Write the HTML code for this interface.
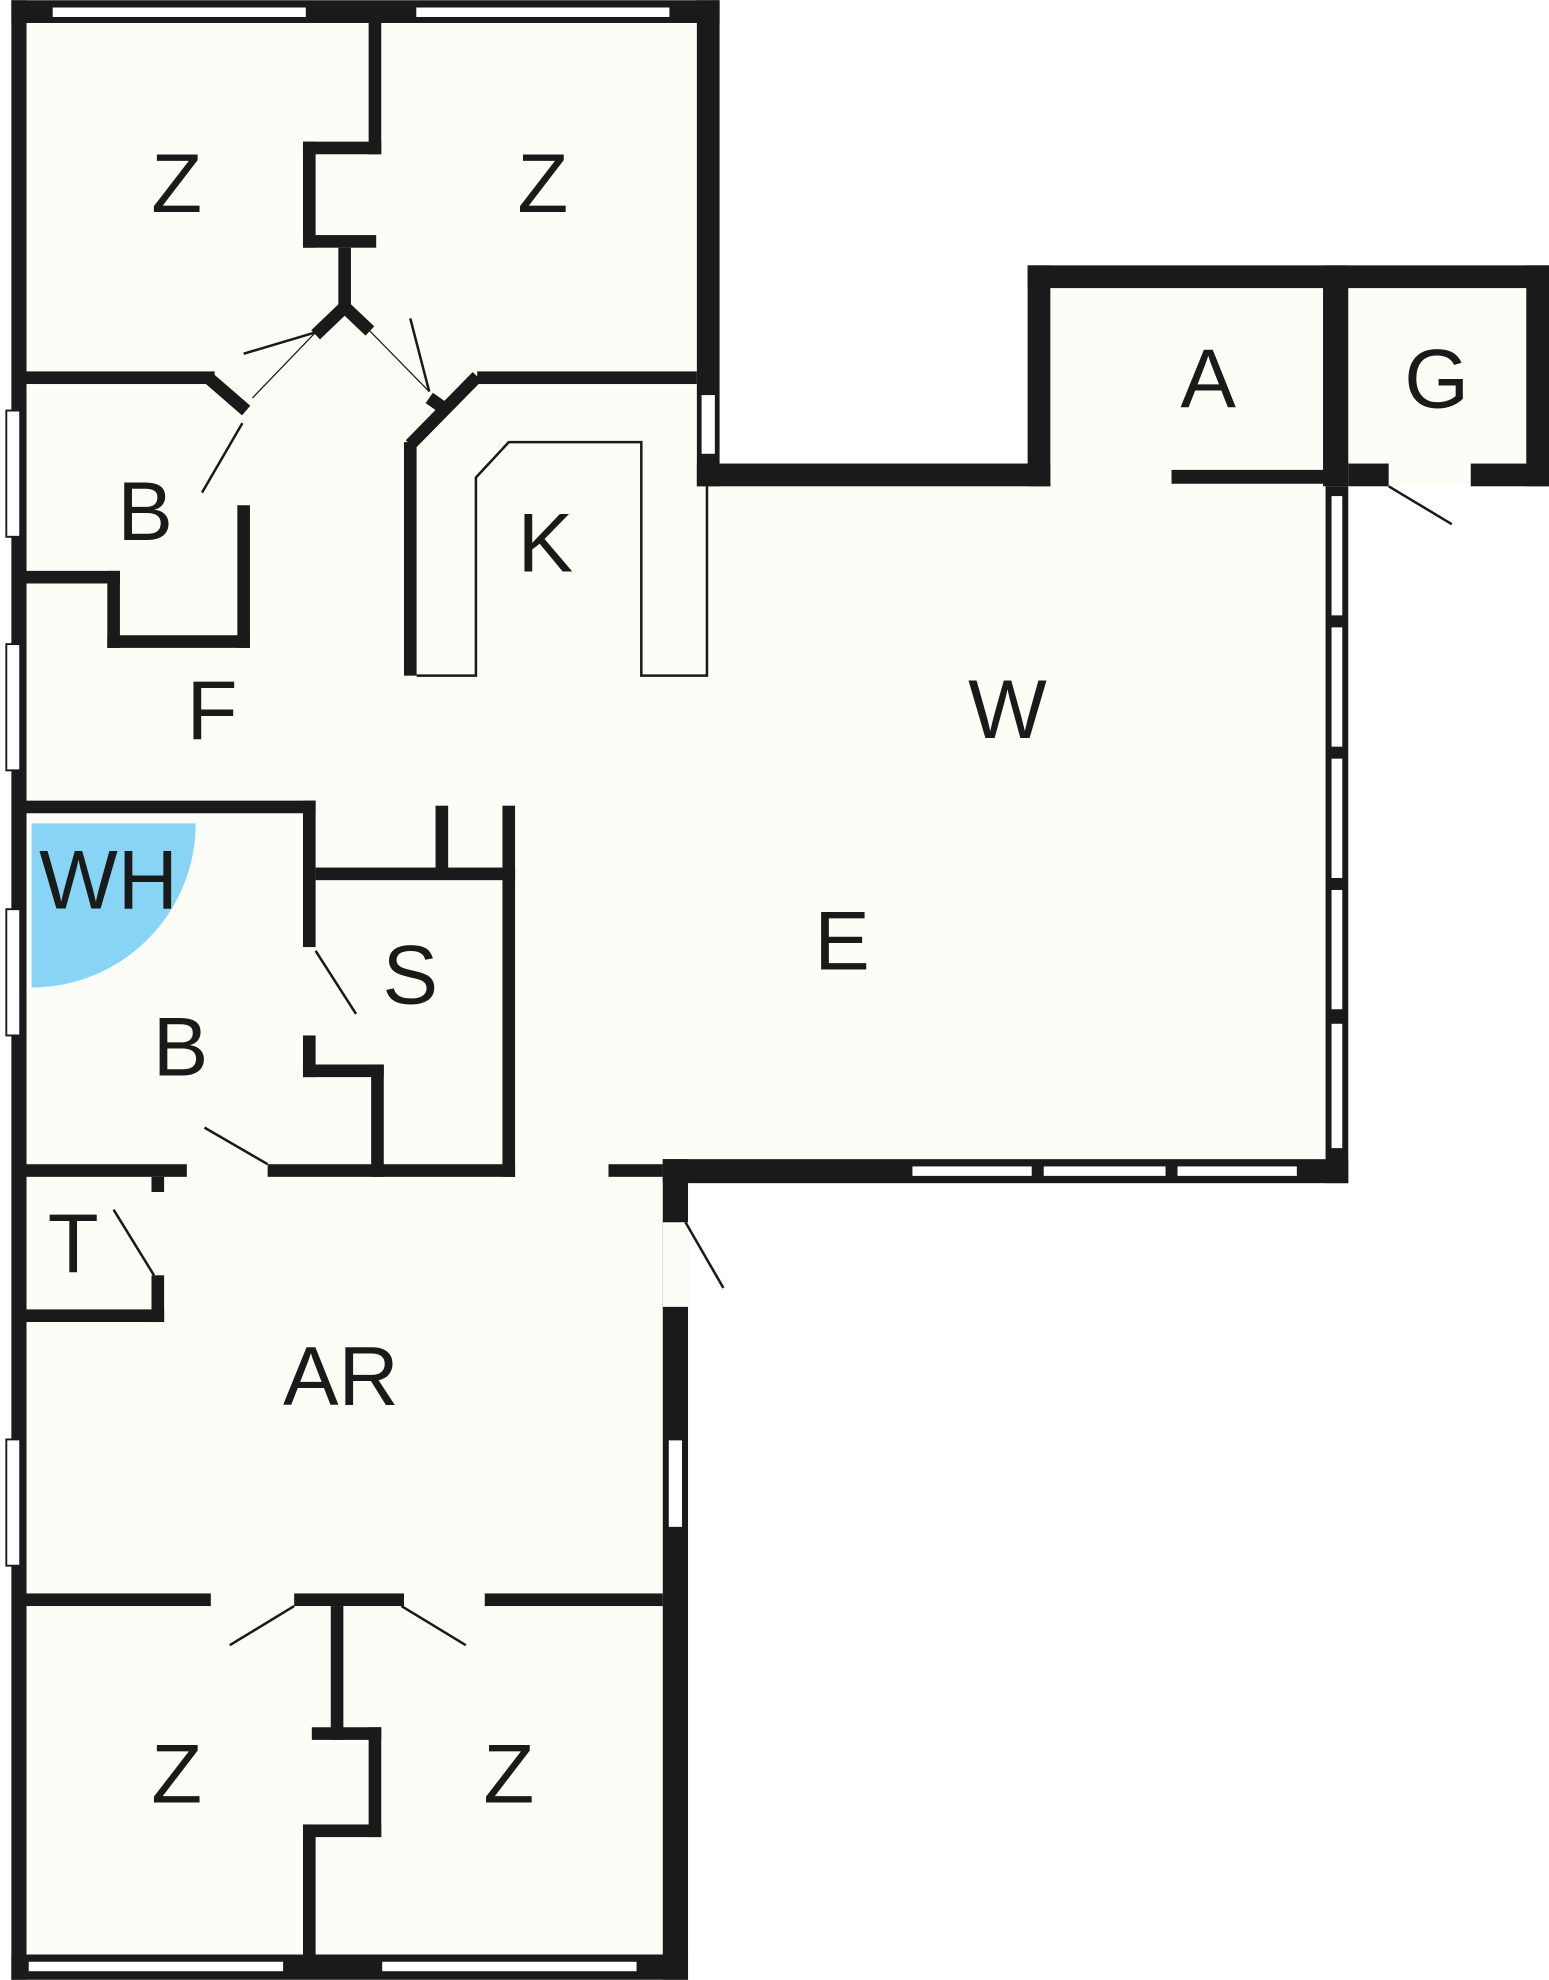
<!DOCTYPE html>
<html><head><meta charset="utf-8"><style>
html,body{margin:0;padding:0;background:#fff;}
svg{display:block;}
text{font-family:"Liberation Sans",sans-serif;font-size:66px;fill:#1a1a1a;text-anchor:middle;dominant-baseline:central;}
</style></head><body>
<svg width="1549" height="1980" viewBox="0 0 1227 1568" xmlns="http://www.w3.org/2000/svg">
<g fill="#fdfdf8">
<rect x="9" y="0" width="561" height="937"/>
<rect x="552" y="367" width="516" height="570"/>
<rect x="814" y="210" width="413" height="175"/>
<rect x="9" y="900" width="536" height="668"/>
</g>
<path d="M25,652 L155,652 A130,130 0 0 1 25,782 Z" fill="#87d4f5"/>
<g fill="#1a1a1a">
<rect x="9" y="0" width="12" height="1568"/>
<rect x="9" y="0" width="561" height="18"/>
<rect x="552" y="0" width="18" height="385"/>
<rect x="552" y="367" width="280" height="18"/>
<rect x="814" y="210" width="18" height="175"/>
<rect x="814" y="210" width="413" height="18"/>
<rect x="1209" y="210" width="18" height="175"/>
<rect x="1048" y="210" width="20" height="175"/>
<rect x="1068" y="367" width="32" height="18"/>
<rect x="1165" y="367" width="62" height="18"/>
<rect x="928" y="372" width="120" height="11"/>
<rect x="1050" y="385" width="18" height="552"/>
<rect x="525" y="918" width="543" height="19"/>
<rect x="525" y="918" width="20" height="650"/>
<rect x="9" y="1548" width="536" height="20"/>
<rect x="292" y="18" width="10" height="104"/>
<rect x="240" y="112" width="62" height="10"/>
<rect x="240" y="112" width="10" height="84"/>
<rect x="240" y="186" width="58" height="10"/>
<rect x="268" y="196" width="10" height="50"/>
<rect x="20" y="294" width="150" height="10"/>
<rect x="378" y="294" width="174" height="10"/>
<rect x="320" y="350" width="10" height="185"/>
<rect x="188" y="400" width="10" height="113"/>
<rect x="85" y="503" width="113" height="10"/>
<rect x="85" y="452" width="10" height="61"/>
<rect x="20" y="452" width="75" height="10"/>
<rect x="20" y="634" width="230" height="10"/>
<rect x="240" y="634" width="10" height="116"/>
<rect x="250" y="687" width="158" height="10"/>
<rect x="345" y="638" width="10" height="52"/>
<rect x="398" y="638" width="10" height="294"/>
<rect x="240" y="820" width="10" height="33"/>
<rect x="240" y="843" width="64" height="10"/>
<rect x="294" y="843" width="10" height="89"/>
<rect x="212" y="922" width="196" height="10"/>
<rect x="20" y="922" width="128" height="10"/>
<rect x="482" y="922" width="43" height="10"/>
<rect x="120" y="932" width="10" height="12"/>
<rect x="120" y="1010" width="10" height="37"/>
<rect x="20" y="1037" width="110" height="10"/>
<rect x="20" y="1262" width="147" height="10"/>
<rect x="233" y="1262" width="87" height="10"/>
<rect x="384" y="1262" width="141" height="10"/>
<rect x="262" y="1272" width="10" height="106"/>
<rect x="247" y="1368" width="55" height="10"/>
<rect x="292" y="1368" width="10" height="87"/>
<rect x="240" y="1445" width="62" height="10"/>
<rect x="240" y="1445" width="10" height="103"/>
</g>
<g stroke="#1a1a1a" stroke-width="10" fill="none">
<polyline points="165,299 195,325"/>
<polyline points="378,298 325,352"/>
<polyline points="250,265 273,243 293,262"/>
<polyline points="340,315 350,322"/>
</g>
<rect x="525" y="968" width="20" height="67" fill="#fdfdf8"/>
<g fill="#fff" stroke="#1a1a1a" stroke-width="1.5">
<rect x="41" y="5" width="202" height="9"/>
<rect x="329" y="5" width="202" height="9"/>
<rect x="555" y="312" width="12" height="48"/>
<rect x="5" y="325" width="11" height="100"/>
<rect x="5" y="510" width="11" height="100"/>
<rect x="5" y="720" width="11" height="100"/>
<rect x="5" y="1140" width="11" height="100"/>
<rect x="1054" y="392" width="10" height="96"/>
<rect x="1054" y="496" width="10" height="96"/>
<rect x="1054" y="600" width="10" height="96"/>
<rect x="1054" y="704" width="10" height="96"/>
<rect x="1054" y="810" width="10" height="100"/>
<rect x="722" y="923" width="96" height="9"/>
<rect x="826" y="923" width="98" height="9"/>
<rect x="932" y="923" width="96" height="9"/>
<rect x="529" y="1140" width="12" height="70"/>
<rect x="22" y="1553" width="203" height="9"/>
<rect x="302" y="1553" width="203" height="9"/>
</g>
<polyline points="330,535 377,535 377,378 403,350 508,350 508,535 560,535 560,385" fill="none" stroke="#1a1a1a" stroke-width="2"/>
<g stroke="#1a1a1a" stroke-width="2" fill="none">
<line x1="193" y1="280" x2="250" y2="263"/>
<line x1="250" y1="263" x2="200" y2="315" stroke-width="1"/>
<line x1="325" y1="252" x2="340" y2="310"/>
<line x1="293" y1="262" x2="340" y2="310" stroke-width="1"/>
<line x1="160" y1="390" x2="192" y2="335"/>
<line x1="1100" y1="385" x2="1150" y2="415"/>
<line x1="250" y1="753" x2="282" y2="803"/>
<line x1="162" y1="893" x2="212" y2="922"/>
<line x1="90" y1="958" x2="122" y2="1010"/>
<line x1="543" y1="968" x2="573" y2="1020"/>
<line x1="182" y1="1303" x2="233" y2="1272"/>
<line x1="318" y1="1272" x2="369" y2="1303"/>
</g>
<text x="140" y="145">Z</text>
<text x="430" y="145">Z</text>
<text x="957" y="300">A</text>
<text x="1138" y="300">G</text>
<text x="115" y="405">B</text>
<text x="432" y="430">K</text>
<text x="168" y="563">F</text>
<text x="798" y="562">W</text>
<text x="86" y="697">WH</text>
<text x="325" y="772">S</text>
<text x="667" y="745">E</text>
<text x="143" y="829">B</text>
<text x="58" y="985">T</text>
<text x="270" y="1090">AR</text>
<text x="140" y="1405">Z</text>
<text x="403" y="1405">Z</text>
</svg>
</body></html>
